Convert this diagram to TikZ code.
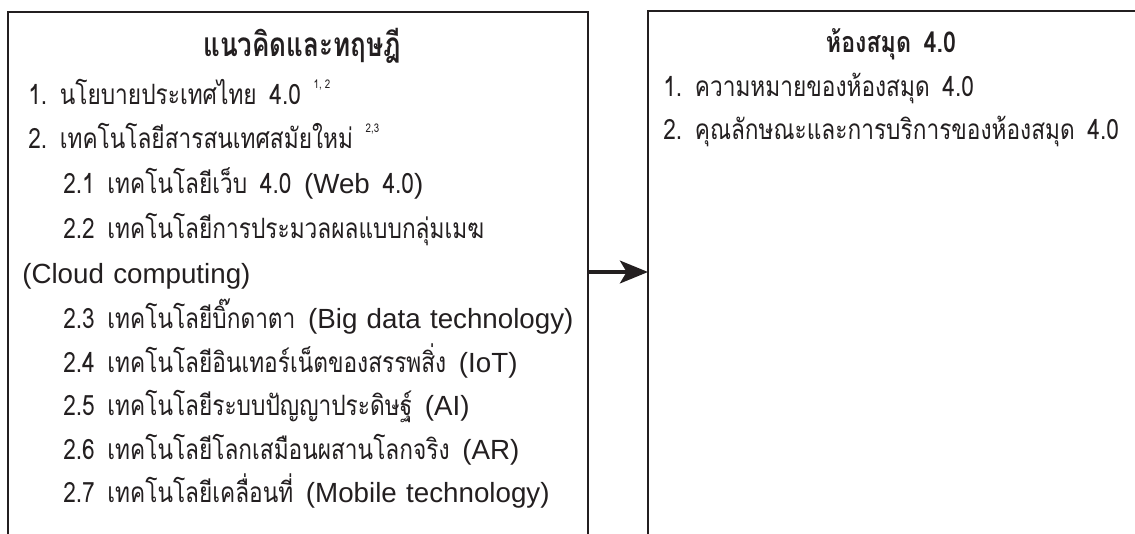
\documentclass[tikz,border=0pt]{standalone}
\usepackage{fontspec}
\usetikzlibrary{arrows.meta}
\newfontfamily\thfont[Script=Thai,FakeStretch=0.81]{Loma}
\newfontfamily\thtitle[Script=Thai,FakeStretch=0.78]{Loma}
\newfontfamily\ltfont{Liberation Sans}
\definecolor{ink}{HTML}{231F20}
\tikzset{
  boxline/.style={draw=ink, line width=1.5pt},
  txt/.style={anchor=base west, inner sep=0pt, text=ink, font=\thfont\fontsize{21}{25}\selectfont},
  ttl/.style={anchor=base, inner sep=0pt, text=ink, font=\thtitle\bfseries\fontsize{25}{29}\selectfont},
  rttl/.style={ttl, font=\thfont\bfseries\fontsize{21.5}{25}\selectfont},
  flow/.style={draw=ink, line width=3pt, -{Stealth[length=21pt,width=17pt,inset=5pt]}}
}
\newcommand{\gap}{\hspace{9.5pt}}
\newcommand{\lgap}{\hspace{7pt}}
\newcommand{\lat}[1]{{\ltfont\fontsize{20.8}{25}\selectfont #1}}
\newcommand{\sref}[1]{\raisebox{0.55em}{\fontsize{9}{10}\selectfont #1}}
\begin{document}
\begin{tikzpicture}[x=0.75pt,y=-0.75pt]
\useasboundingbox (0,0) rectangle (1135,533);
\fill[white] (0,0) rectangle (1135,533);
% boxes
\draw[boxline] (8,535) -- (8,12) -- (588,12) -- (588,535);
\draw[boxline] (648,535) -- (648,11) -- (1136,11);
% arrow
\coordinate (aout) at (588,272);
\coordinate (ain) at (648,272);
\draw[flow] (aout) -- (ain);
% left box
\node[ttl] (lt) at (302,56) {แนวคิดและทฤษฎี};
\node[txt] (l1) at (28,104) {1.\gap นโยบายประเทศไทย\gap 4.0\gap\sref{1,\ 2}};
\node[txt] (l2) at (28,148) {2.\gap เทคโนโลยีสารสนเทศสมัยใหม่\gap\sref{2,3}};
\node[txt] (l21) at (63,193) {2.1\gap เทคโนโลยีเว็บ\gap 4.0\gap\lat{(Web}\gap 4.0\lat{)}};
\node[txt] (l22) at (63,238) {2.2\gap เทคโนโลยีการประมวลผลแบบกลุ่มเมฆ};
\node[txt] (lcl) at (22,283) {\lat{(Cloud\lgap computing)}};
\node[txt] (l23) at (63,328) {2.3\gap เทคโนโลยีบิ๊กดาตา\gap\lat{(Big\lgap data\lgap technology)}};
\node[txt] (l24) at (63,372) {2.4\gap เทคโนโลยีอินเทอร์เน็ตของสรรพสิ่ง\gap\lat{(IoT)}};
\node[txt] (l25) at (63,415) {2.5\gap เทคโนโลยีระบบปัญญาประดิษฐ์\gap\lat{(AI)}};
\node[txt] (l26) at (63,459) {2.6\gap เทคโนโลยีโลกเสมือนผสานโลกจริง\gap\lat{(AR)}};
\node[txt] (l27) at (63,502) {2.7\gap เทคโนโลยีเคลื่อนที่\gap\lat{(Mobile\lgap technology)}};
% right box
\node[rttl] (rt) at (891,52) {ห้องสมุด\gap 4.0};
\node[txt] (r1) at (663,96) {1.\gap ความหมายของห้องสมุด\gap 4.0};
\node[txt] (r2) at (663,139) {2.\gap คุณลักษณะและการบริการของห้องสมุด\gap 4.0};
\end{tikzpicture}
\end{document}
